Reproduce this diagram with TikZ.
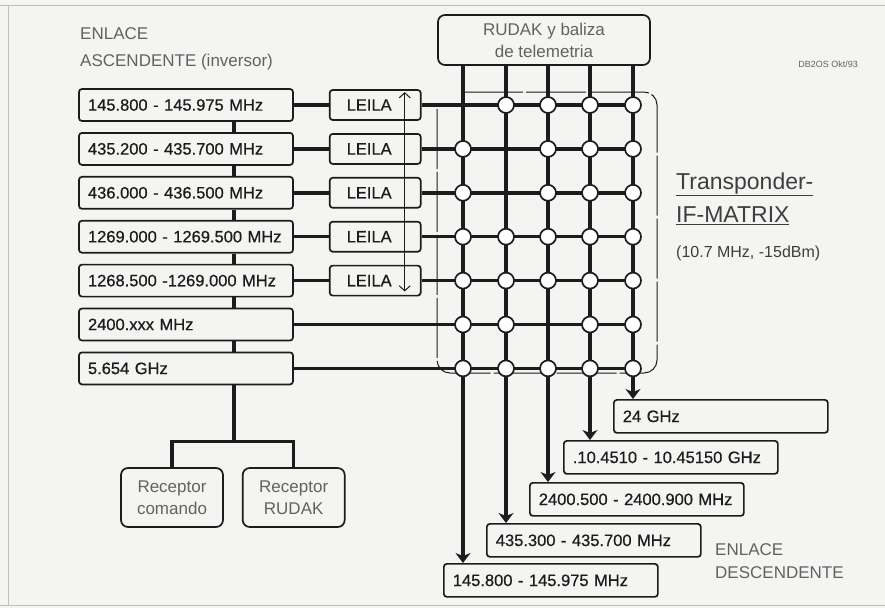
\documentclass[tikz,border=0pt]{standalone}
\usepackage{fontspec}
\setmainfont{Liberation Sans}
\usetikzlibrary{positioning, arrows.meta}
\definecolor{ink}{HTML}{1C1C1C}
\definecolor{soft}{HTML}{626262}
\definecolor{paper}{HTML}{F4F4F2}
\newcommand{\boxfont}{\fontsize{16.5}{20}\selectfont\addfontfeature{FakeBold=0.6}}

\begin{document}
\begin{tikzpicture}[
		x=1pt, y=-1pt,
		node distance=10.2pt and 35pt,
		box/.style={draw=ink, rounded corners=3pt, line width=1.7pt, text=ink, font=\boxfont},
		freq/.style={box, minimum height=32pt, text width=196pt, inner xsep=9pt, align=left},
		leila/.style={box, minimum height=30pt, text width=57pt, inner xsep=17pt, inner ysep=0pt, align=left},
		softbox/.style={box, text=soft, align=center, rounded corners=7pt, font=\fontsize{17}{22}\selectfont},
		note/.style={text=soft, align=left, inner sep=0pt, font=\fontsize{17}{27}\selectfont},
		title/.style={text=ink!85, align=left, inner sep=0pt, font=\fontsize{23}{33}\selectfont},
		wire/.style={draw=ink, line width=3.4pt},
		fine/.style={draw=ink, line width=1pt},
		edge/.style={draw=gray!50, line width=1pt},
		junc/.style={circle, draw=ink, fill=white, line width=1.7pt, minimum size=16pt, inner sep=0pt},
		down/.style={wire, -{Stealth[length=10pt, width=15pt, inset=3pt]}}
		]
		
		% PAPER
		\fill[paper] (0,0) rectangle (885,608);
		\useasboundingbox (0,0) rectangle (885,608);
		\draw[edge] (0,5) -- (885,5);
		\draw[edge] (8,5) -- (8,605);
		\draw[edge] (0,605) -- (885,605);
		
		% LABELS
		\node[note, anchor=west] (uplab) at (80,48.5) {ENLACE\\ASCENDENTE (inversor)};
		\node[note, anchor=east, font=\fontsize{9}{10}\selectfont] (sign) at (858,64) {DB2OS Okt/93};
		\node[title, anchor=west] (tp) at (676,198.5) {\underline{Transponder-}\\\underline{IF-MATRIX}};
		\node[note, anchor=west, text=ink!85, font=\fontsize{16}{20}\selectfont] (iflev) at (676,253) {(10.7 MHz, -15dBm)};
		\node[note, anchor=west, font=\fontsize{17}{23}\selectfont] (downlab) at (715,561) {ENLACE\\DESCENDENTE};
		
		% UPLINK (left column)
		\node[freq] (f1) at (186,105) {145.800 - 145.975 MHz};
		\node[freq, below=of f1] (f2) {435.200 - 435.700 MHz};
		\node[freq, below=of f2] (f3) {436.000 - 436.500 MHz};
		\node[freq, below=of f3] (f4) {1269.000 - 1269.500 MHz};
		\node[freq, below=of f4] (f5) {1268.500 -1269.000 MHz};
		\node[freq, below=of f5] (f6) {2400.xxx MHz};
		\node[freq, below=of f6] (f7) {5.654 GHz};
		\foreach \i in {1,...,5}
			\node[leila, right=of f\i] (l\i) {LEILA};
		
		% RECEIVERS
		\node[softbox, minimum width=102pt, minimum height=59pt] (rc) at (172,497.5) {Receptor\\comando};
		\node[softbox, minimum width=102pt, minimum height=59pt, right=18pt of rc] (rr) {Receptor\\RUDAK};
		
		% RUDAK / BEACON
		\node[softbox, minimum width=212pt, minimum height=50pt] (rudak) at (544,40) {RUDAK y baliza\\de telemetria};
		
		% DOWNLINK
		\node[freq, minimum height=33pt, anchor=north west] (o5) at (613,399) {24 GHz};
		\node[freq, minimum height=33pt, anchor=north west] (o4) at (563,440) {.10.4510 - 10.45150 GHz};
		\node[freq, minimum height=33pt, anchor=north west] (o3) at (529,482) {2400.500 - 2400.900 MHz};
		\node[freq, minimum height=33pt, anchor=north west] (o2) at (486,523) {435.300 - 435.700 MHz};
		\node[freq, minimum height=33pt, anchor=north west] (o1) at (443,563) {145.800 - 145.975 MHz};
		
		% MATRIX COLUMNS
		\foreach \c/\x in {1/463, 2/506, 3/548, 4/590, 5/633}
			\coordinate (c\c) at (\x,0);
		
		% matrix outline
		\draw[fine, rounded corners=13pt, dash pattern=on 60pt off 3pt] (463,92) -| (657,373) -| (437,106);
		
		% CONNECTIONS
		\foreach \i/\j in {1/2, 2/3, 3/4, 4/5, 5/6, 6/7}
			\draw[wire] ([xshift=48pt]f\i.south) -- ([xshift=48pt]f\j.north);
		\coordinate (split) at ([xshift=48pt, yshift=-56pt]f7.south);
		\draw[wire] ([xshift=48pt]f7.south) -- (split);
		\draw[wire] (rc.north) |- (split) -| (rr.north);
		
		\foreach \i in {1,...,5} {
			\draw[wire] (f\i) -- (l\i);
			\draw[wire] (l\i.east) -- (l\i -| c5);
		}
		\foreach \i in {6,7}
			\draw[wire] (f\i.east) -- (f\i -| c5);
		
		\foreach \c in {1,...,5}
			\draw[down] (rudak.south -| c\c) -- (o\c.north -| c\c);
		
		\draw[fine, {Straight Barb[length=5pt, width=11pt]}-{Straight Barb[length=5pt, width=11pt]}]
			([xshift=29.5pt, yshift=-3pt]l1.north) -- ([xshift=29.5pt, yshift=5pt]l5.south);
		
		% SWITCH POINTS
		\foreach \r/\cs in {1/{2,3,4,5}, 2/{1,3,4,5}, 3/{1,3,4,5}, 4/{1,2,3,4,5}, 5/{1,2,3,4,5}, 6/{1,2,4,5}, 7/{1,2,3,4,5}}
			\foreach \c in \cs
				\node[junc] (j\r\c) at (f\r -| c\c) {};
		
	\end{tikzpicture}
\end{document}
